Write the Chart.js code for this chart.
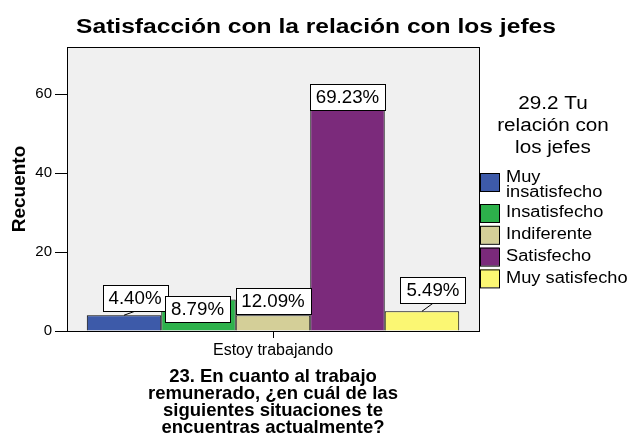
<!DOCTYPE html>
<html>
<head>
<meta charset="utf-8">
<script src="https://cdn.jsdelivr.net/npm/chart.js@4.4.1/dist/chart.umd.min.js"></script>
<style>
  html, body { margin: 0; padding: 0; background: #fff; }
  #wrap { width: 629px; height: 446px; }
</style>
</head>
<body>
<div id="wrap"><canvas id="chart" width="629" height="446"></canvas></div>
<script>
// datos
var categories = ['Estoy trabajando'];
var levels = ['Muy insatisfecho', 'Insatisfecho', 'Indiferente', 'Satisfecho', 'Muy satisfecho'];
var counts = [4, 8, 4, 56, 5];
var percentLabels = ['4.40%', '8.79%', '12.09%', '69.23%', '5.49%'];
var yTicks = [0, 20, 40, 60];

var colors = ['#3D5AA9', '#2DB14B', '#D4CF98', '#7B2A7B', '#FBF773'];
// posicion de cada etiqueta: desplazamiento x y distancia de la base de la caja a la barra
var labelPos = [[11, 4], [-1, -23], [0, 1], [0, 0], [11, 8]];

var FONT = '"Liberation Sans", Arial, sans-serif';

// texto un poco ensanchado, como en el grafico original
function wideText(ctx, txt, x, y, sx) {
  ctx.save();
  ctx.translate(x, y);
  ctx.scale(sx, 1);
  ctx.fillText(txt, 0, 0);
  ctx.restore();
}

var plotBox = {
  id: 'plotBox',
  beforeDraw: function(chart) {
    var a = chart.chartArea, ctx = chart.ctx;
    ctx.save();
    ctx.fillStyle = '#F0F0F0';
    ctx.fillRect(a.left, a.top, a.right - a.left, a.bottom - a.top);
    ctx.restore();
  },
  afterDraw: function(chart) {
    var a = chart.chartArea, ctx = chart.ctx;
    ctx.save();
    ctx.strokeStyle = '#000';
    ctx.lineWidth = 1;
    ctx.strokeRect(a.left + 0.5, a.top + 0.5, a.right - a.left, a.bottom - a.top);

    // titulo
    ctx.fillStyle = '#000';
    ctx.font = 'bold 20px ' + FONT;
    ctx.textAlign = 'center';
    ctx.textBaseline = 'middle';
    wideText(ctx, 'Satisfacción con la relación con los jefes', 316, 27, 1.23);

    // etiquetas de porcentaje
    ctx.font = '18px ' + FONT;
    chart.data.datasets.forEach(function(ds, i) {
      var bar = chart.getDatasetMeta(i).data[0];
      var txt = percentLabels[i];
      var w = Math.round(ctx.measureText(txt).width * 1.04 + 12);
      var h = 26;
      var cx = bar.x + labelPos[i][0];
      var bottom = bar.y - labelPos[i][1];
      var x0 = Math.round(cx - w / 2) + 0.5, y0 = Math.round(bottom - h) + 0.5;
      if (labelPos[i][1] > 2) {
        ctx.beginPath();
        ctx.moveTo(bar.x, bar.y);
        ctx.lineTo(cx, bottom);
        ctx.stroke();
      }
      ctx.fillStyle = '#fff';
      ctx.fillRect(x0, y0, w, h);
      ctx.strokeRect(x0, y0, w, h);
      ctx.fillStyle = '#000';
      wideText(ctx, txt, cx, y0 + h / 2 + 1, 1.04);
    });

    // leyenda
    ctx.font = '18px ' + FONT;
    ['29.2 Tu', 'relación con', 'los jefes'].forEach(function(t, k) {
      wideText(ctx, t, 553, 104 + k * 22, 1.15);
    });
    ctx.font = '16px ' + FONT;
    ctx.textAlign = 'left';
    var y = 173;
    levels.forEach(function(lab, i) {
      var lines = ctx.measureText(lab).width * 1.14 > 122 ? lab.split(' ') : [lab];
      ctx.fillStyle = colors[i];
      ctx.fillRect(480, y, 19, 18);
      ctx.strokeRect(480.5, y + 0.5, 19, 18);
      ctx.fillStyle = '#000';
      if (lines.length > 1) {
        wideText(ctx, lines[0], 506, y + 5, 1.14);
        wideText(ctx, lines.slice(1).join(' '), 506, y + 20, 1.14);
        y += 31;
      } else {
        wideText(ctx, lab, 506, y + 9, 1.14);
        y += 21.8;
      }
    });
    ctx.restore();
  }
};

var datasets = levels.map(function(lab, i) {
  return {
    label: lab,
    data: [counts[i]],
    backgroundColor: colors[i],
    borderColor: '#000',
    borderWidth: 1,
    categoryPercentage: 0.904,
    barPercentage: 1
  };
});

new Chart(document.getElementById('chart'), {
  type: 'bar',
  data: { labels: categories, datasets: datasets },
  options: {
    responsive: false,
    animation: false,
    layout: { padding: { left: 0, right: 150, top: 47, bottom: 0 } },
    plugins: { legend: { display: false }, title: { display: false }, tooltip: { enabled: false } },
    scales: {
      x: {
        afterFit: function(s) { s.height = 115; },
        grid: { offset: false, drawOnChartArea: false, tickLength: 7, color: '#000' },
        border: { color: '#000' },
        ticks: { color: '#000', font: { family: FONT, size: 16 }, padding: 3 },
        title: {
          display: true,
          text: ['23. En cuanto al trabajo', 'remunerado, ¿en cuál de las', 'siguientes situaciones te', 'encuentras actualmente?'],
          color: '#000',
          font: { family: FONT, size: 18.5, weight: 'bold', lineHeight: 17 / 18.5 },
          padding: { top: 0, bottom: 9.5 }
        }
      },
      y: {
        min: 0,
        max: 72,
        afterFit: function(s) { s.width = 67; },
        afterBuildTicks: function(s) {
          s.ticks = yTicks.map(function(v) { return { value: v }; });
        },
        grid: { drawOnChartArea: false, tickLength: 12, color: '#000' },
        border: { color: '#000' },
        ticks: { color: '#000', font: { family: FONT, size: 15 }, padding: 3 },
        title: {
          display: true,
          text: 'Recuento',
          color: '#000',
          font: { family: FONT, size: 19, weight: 'bold', lineHeight: 1.2 },
          padding: { top: 8, bottom: 0 }
        }
      }
    }
  },
  plugins: [plotBox]
});
</script>
</body>
</html>
